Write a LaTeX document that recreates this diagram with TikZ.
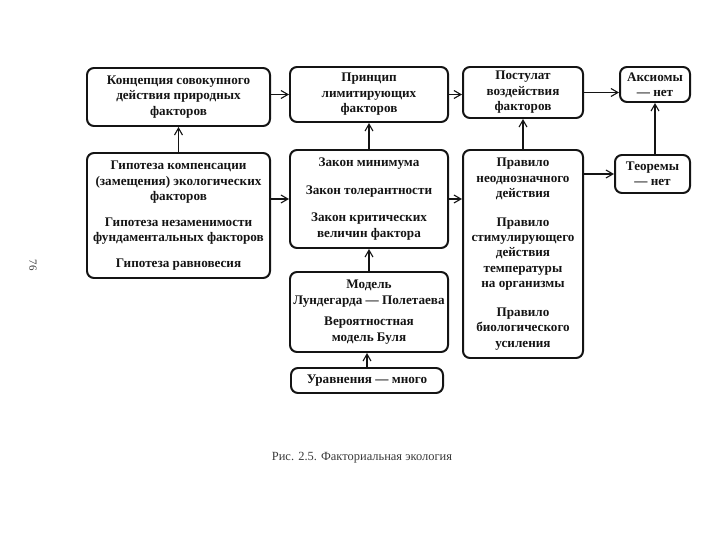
\documentclass[tikz,border=0pt]{standalone}
\usepackage{fontspec}
\setmainfont{Liberation Serif}
\usepackage{xcolor}
\usetikzlibrary{arrows.meta,positioning}
\definecolor{ink}{HTML}{141414}
\definecolor{inkgray}{HTML}{3A3A3A}
\tikzset{
  factbox/.style={draw=ink,line width=2pt,rounded corners=7bp,
                  align=center,inner sep=0pt,text=ink,
                  font=\fontsize{13.2}{15.5}\selectfont\bfseries},
  factarr/.style={-{Straight Barb[length=7bp,width=8bp]},line width=1.1pt,color=ink}
}
\begin{document}
\begin{tikzpicture}[x=1bp,y=-1bp]
      \useasboundingbox (0,0) rectangle (720,540);
      % top row
      \node[factbox,minimum width=183bp,minimum height=58bp] (concept) at (178.5,97)
        {Концепция совокупного\\действия природных\\факторов};
      \node[factbox,minimum width=158bp,minimum height=55bp] (principle) at (369,94.5)
        {Принцип\\лимитирующих\\факторов};
      \node[factbox,minimum width=120bp,minimum height=51bp] (postulate) at (523,92.5)
        {Постулат\\воздействия\\факторов};
      \node[factbox,minimum width=70bp,minimum height=35bp] (axioms) at (655,84.5)
        {Аксиомы\\— нет};
      % second row
      \node[factbox,minimum width=183bp,minimum height=125bp] (hypo) at (178.5,215.5)
        {Гипотеза компенсации\\(замещения) экологических\\факторов\\[10bp]
         Гипотеза незаменимости\\фундаментальных факторов\\[10bp]
         Гипотеза равновесия};
      \node[factbox,minimum width=158bp,minimum height=98bp] (laws) at (369,199)
        {Закон минимума\\[12bp]Закон толерантности\\[12bp]Закон критических\\величин фактора};
      \node[factbox,minimum width=120bp,minimum height=208bp] (rules) at (523,254)
        {Правило\\неоднозначного\\действия\\[13bp]
         Правило\\стимулирующего\\действия\\температуры\\на организмы\\[13bp]
         Правило\\биологического\\усиления};
      \node[factbox,minimum width=75bp,minimum height=38bp] (theorems) at (652.5,174)
        {Теоремы\\— нет};
      % models and equations
      \node[factbox,minimum width=158bp,minimum height=80bp] (models) at (369,312)
        {Модель\\Лундегарда — Полетаева\\[6bp]Вероятностная\\модель Буля};
      \node[factbox,minimum width=152bp,minimum height=25bp] (equations) at (367,380.5)
        {Уравнения — много};
      % connectors
      \draw[factarr] (concept.east |- principle.west) -- (principle.west);
      \draw[factarr] (principle.east) -- (principle.east -| postulate.west);
      \draw[factarr] (postulate.east) -- (postulate.east -| axioms.west);
      \draw[factarr] (hypo.east |- laws.west) -- (laws.west);
      \draw[factarr] (laws.east) -- (laws.east -| rules.west);
      \draw[factarr] (rules.east |- theorems.west) -- (theorems.west);
      \draw[factarr] (hypo) -- (concept);
      \draw[factarr] (laws) -- (principle);
      \draw[factarr] (rules.north) -- (postulate.south);
      \draw[factarr] (theorems.north -| axioms.south) -- (axioms.south);
      \draw[factarr] (models) -- (laws);
      \draw[factarr] (equations.north) -- (equations.north |- models.south);
      % caption and page number
      \node[font=\fontsize{12.5}{14}\selectfont,text=inkgray] (caption) at (362,458)
        {Рис. 2.5. Факториальная экология};
      \node[font=\fontsize{11}{13}\selectfont,text=inkgray,rotate=-90] (page) at (33,265) {76};
    \end{tikzpicture}
\end{document}
